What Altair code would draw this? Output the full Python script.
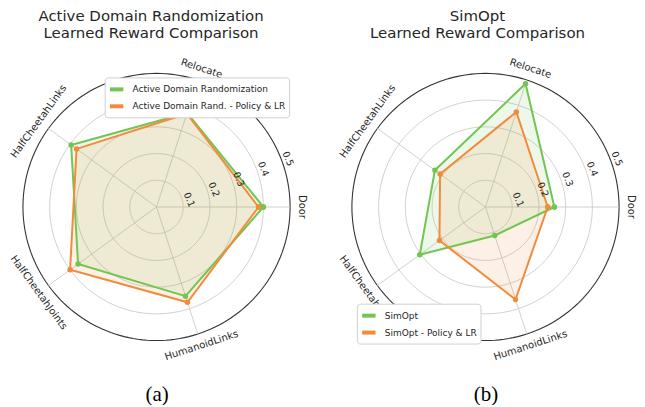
import altair as alt
import pandas as pd

categories = ["Door", "Relocate", "HalfCheetahLinks", "HalfCheetahJoints", "HumanoidLinks"]
radial_ticks = [0.1, 0.2, 0.3, 0.4, 0.5]
tick_labels = ["0.1", "0.2", "0.3", "0.4", "0.5"]

adr_names = ["Active Domain Randomization", "Active Domain Rand. - Policy & LR"]
adr_values = [0.40, 0.37, 0.395, 0.363, 0.351]
adr_plr_values = [0.382, 0.367, 0.37, 0.40, 0.375]

simopt_names = ["SimOpt", "SimOpt - Policy & LR"]
simopt_values = [0.258, 0.485, 0.234, 0.304, 0.112]
simopt_plr_values = [0.233, 0.374, 0.21, 0.213, 0.364]

colors = ["#72c551", "#f28b3b"]
TEXT = "#262626"
GRID = "#cccccc"


def series_df(names, a, b):
    rows = []
    for name, vals in zip(names, [a, b]):
        for i in range(len(categories) + 1):
            k = i % len(categories)
            rows.append({"series": name, "idx": i, "cat": categories[k], "value": vals[k]})
    return pd.DataFrame(rows)


def panel(names, a, b, title_lines, caption, width, height, xdom, ydom,
          leg_x, leg_y, title_dx, cap_x):
    xs = alt.Scale(domain=xdom, nice=False, zero=False)
    ys = alt.Scale(domain=ydom, nice=False, zero=False)
    xaxis = alt.Axis(title=caption, domain=False, ticks=False, labels=False, grid=False,
                     titleFont="Liberation Serif", titleFontSize=21, titleFontWeight="normal",
                     titleColor="black", titlePadding=13, titleX=cap_x, titleBaseline="top")

    def X(f):
        return alt.X(f, scale=xs, axis=xaxis)

    def Y(f):
        return alt.Y(f, scale=ys, axis=None)

    # grid circles
    circ = alt.Chart(pd.DataFrame({"r": radial_ticks})).transform_calculate(
        a="sequence(0, 362, 2)"
    ).transform_flatten(["a"]).transform_calculate(
        x="datum.r*cos(datum.a*PI/180)", y="datum.r*sin(datum.a*PI/180)"
    )
    inner = circ.transform_filter("datum.r < 0.45").mark_line(
        color=GRID, strokeWidth=0.9).encode(
        x=X("x:Q"), y=Y("y:Q"), detail="r:N", order="a:Q")
    outer = circ.transform_filter("datum.r >= 0.45").mark_line(
        color="#333333", strokeWidth=1.1).encode(
        x=X("x:Q"), y=Y("y:Q"), detail="r:N", order="a:Q")

    cat_df = pd.DataFrame({"cat": categories, "idx": list(range(len(categories)))})
    spokes = alt.Chart(cat_df).transform_calculate(
        ang="datum.idx*2*PI/5", x0="0", y0="0",
        xe="0.5*cos(datum.ang)", ye="0.5*sin(datum.ang)"
    ).mark_rule(color=GRID, strokeWidth=0.9).encode(
        x=X("x0:Q"), y=Y("y0:Q"), x2="xe:Q", y2="ye:Q")

    sdf = series_df(names, a, b)
    base = alt.Chart(sdf).transform_calculate(
        ang="datum.idx*2*PI/5",
        x="datum.value*cos(datum.ang)", y="datum.value*sin(datum.ang)"
    )
    fills = []
    for name, c in zip(names, colors):
        fills.append(base.transform_filter(alt.datum.series == name).mark_line(
            fill=c, fillOpacity=0.12, strokeWidth=0).encode(
            x=X("x:Q"), y=Y("y:Q"), order="idx:Q"))

    legend = alt.Legend(orient="none", legendX=leg_x, legendY=leg_y, title=None,
                        symbolType="stroke", symbolStrokeWidth=4, symbolSize=180,
                        labelFontSize=9, labelFont="DejaVu Sans", labelColor=TEXT,
                        fillColor="white", strokeColor="#d0d0d0", padding=3,
                        cornerRadius=3, rowPadding=-4, labelOffset=7)
    cscale = alt.Scale(domain=names, range=colors)
    lines = base.mark_line(strokeWidth=2).encode(
        x=X("x:Q"), y=Y("y:Q"), order="idx:Q",
        color=alt.Color("series:N", scale=cscale, legend=legend, sort=names))
    pts = base.mark_circle(size=30, opacity=1).encode(
        x=X("x:Q"), y=Y("y:Q"),
        color=alt.Color("series:N", scale=cscale, legend=legend, sort=names))

    labels = alt.Chart(cat_df).transform_calculate(
        deg="datum.idx*72",
        x="0.545*cos(datum.deg*PI/180)", y="0.545*sin(datum.deg*PI/180)",
        r0="90 - datum.deg"
    ).transform_calculate(
        rot="((datum.r0 < -90 ? datum.r0 + 180 : datum.r0) + 360) % 360"
    ).mark_text(font="DejaVu Sans", fontSize=10, color=TEXT, align="center",
                baseline="middle").encode(
        x=X("x:Q"), y=Y("y:Q"), text="cat:N", angle=alt.Angle("rot:Q", scale=None))

    ticks = alt.Chart(pd.DataFrame({"r": radial_ticks, "lab": tick_labels})).transform_calculate(
        x="datum.r*cos(22.5*PI/180) + 0.03", y="datum.r*sin(22.5*PI/180) - 0.011"
    ).mark_text(font="DejaVu Sans", fontSize=9.5, color=TEXT, align="center",
                baseline="middle", angle=67.5).encode(
        x=X("x:Q"), y=Y("y:Q"), text="lab:N")

    return alt.layer(inner, outer, spokes, *fills, lines, pts, labels, ticks).properties(
        width=width, height=height,
        title=alt.TitleParams(text=title_lines, fontSize=15, font="DejaVu Sans",
                              fontWeight="normal", color=TEXT, anchor="middle",
                              dx=title_dx, offset=11, lineHeight=17)
    )


PX = 268.0
H = 320
top_px = 156
ydom = [-(H - top_px) / PX, top_px / PX]

left = panel(adr_names, adr_values, adr_plr_values,
             ["Active Domain Randomization", "Learned Reward Comparison"], "(a)",
             313, H, [-149 / PX, (313 - 149) / PX], ydom, 97, 26, -13, 149)
right = panel(simopt_names, simopt_values, simopt_plr_values,
              ["SimOpt", "Learned Reward Comparison"], "(b)",
              312, H, [-166 / PX, (312 - 166) / PX], ydom, 37, 253, 2, 166)

chart = alt.hconcat(left, right, spacing=0).resolve_scale(
    x="independent", y="independent", color="independent"
).properties(padding=0).configure_view(stroke=None)

chart.save("out.html", embed_options={"renderer": "svg", "actions": False})
